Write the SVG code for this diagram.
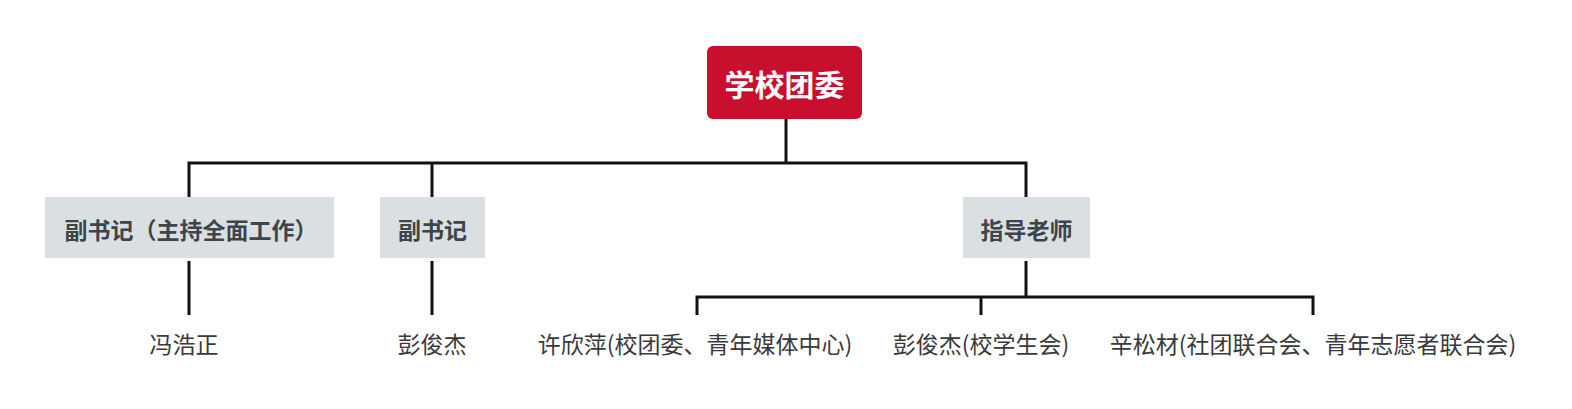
<svg xmlns="http://www.w3.org/2000/svg" width="1572" height="409" viewBox="0 0 1572 409">
<style>
.root{fill:#c8102e}
.rt{fill:#fff;font-family:"Noto Sans CJK SC","Noto Sans",sans-serif;font-size:30px;font-weight:bold;text-anchor:middle;dominant-baseline:central}
.box{fill:#dae0e2}
.bt{fill:#3d444b;font-family:"Noto Sans CJK SC","Noto Sans",sans-serif;font-size:23px;font-weight:bold;text-anchor:middle;dominant-baseline:central}
.lt{fill:#3a3a3a;font-family:"Noto Sans CJK SC","Noto Sans",sans-serif;font-size:23px;text-anchor:middle;dominant-baseline:central}
.c{fill:none;stroke:#111;stroke-width:3}
</style>
<rect width="1572" height="409" fill="#fff"/>
<g id="connectors">
<path class="c" d="M786,119 V163 M189,197 V163 H1026 V197 M432,163 V197"/>
<path class="c" d="M189,261 V315 M432,261 V315"/>
<path class="c" d="M1026,261 V297 M697,315 V297 H1313 V315 M981,297 V315"/>
</g>
<g id="root"><rect class="root" x="707" y="46" width="155" height="73" rx="6"/><text class="rt" x="784.5" y="83">学校团委</text></g>
<g id="n1"><rect class="box" x="45" y="197" width="289" height="61"/><text class="bt" x="191" y="229">副书记（主持全面工作）</text></g>
<g id="n2"><rect class="box" x="380" y="197" width="105" height="61"/><text class="bt" x="432.5" y="229">副书记</text></g>
<g id="n3"><rect class="box" x="963" y="197" width="127" height="61"/><text class="bt" x="1026.5" y="229">指导老师</text></g>
<g id="l1"><text class="lt" x="184" y="343">冯浩正</text></g>
<g id="l2"><text class="lt" x="432" y="343">彭俊杰</text></g>
<g id="l3"><text class="lt" x="695" y="343">许欣萍(校团委、青年媒体中心)</text></g>
<g id="l4"><text class="lt" x="981" y="343">彭俊杰(校学生会)</text></g>
<g id="l5"><text class="lt" x="1313" y="343">辛松材(社团联合会、青年志愿者联合会)</text></g>
</svg>
